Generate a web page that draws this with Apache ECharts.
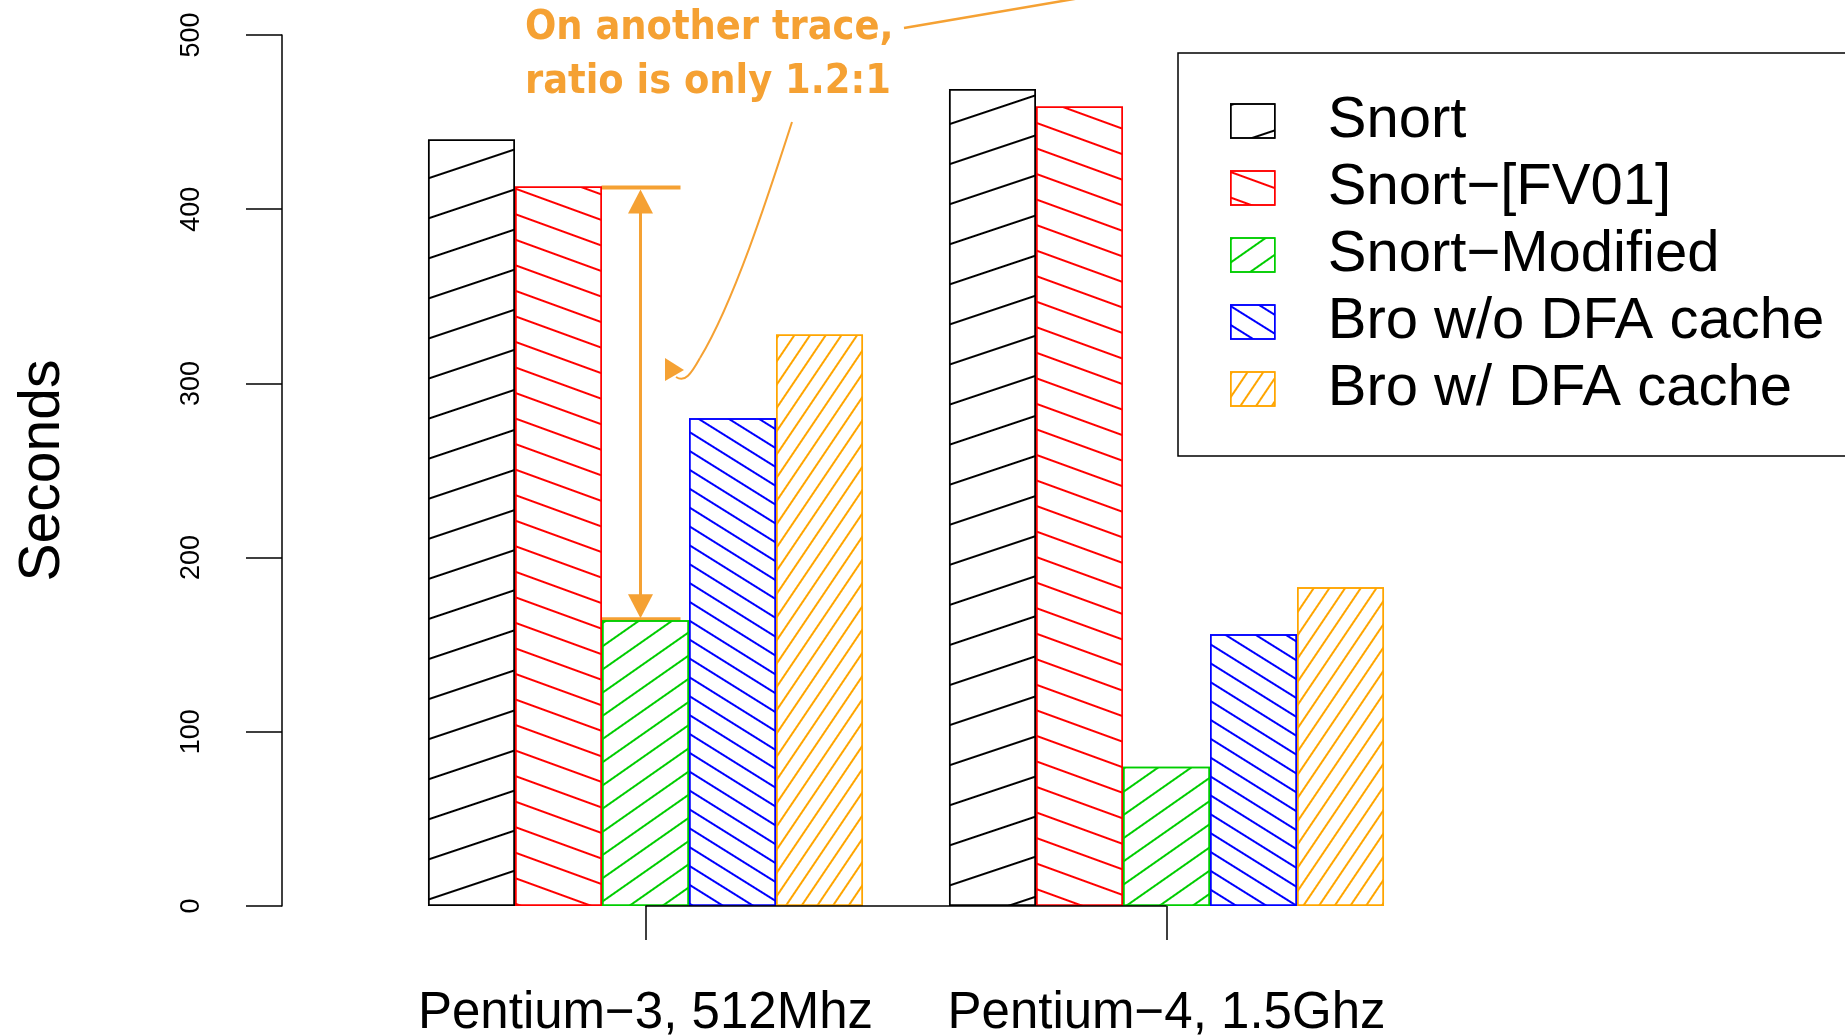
<!DOCTYPE html>
<html><head><meta charset="utf-8">
<script src="https://cdn.jsdelivr.net/npm/echarts@6/dist/echarts.min.js"></script>
<style>html,body{margin:0;padding:0;background:#fff}#c{width:1845px;height:1036px}</style>
</head><body><div id="c"></div>
<script>
// ---- data ----
const categories = ['Pentium\u22123, 512Mhz', 'Pentium\u22124, 1.5Ghz'];
const seriesNames = ['Snort', 'Snort\u2212[FV01]', 'Snort\u2212Modified', 'Bro w/o DFA cache', 'Bro w/ DFA cache'];
const snort = [440, 469];
const snortFV01 = [413, 459];
const snortModified = [164, 80];
const broNoCache = [280, 156];
const broCache = [328, 183];
const yTicks = [0, 100, 200, 300, 400, 500];
const annotationLines = ['On another trace,', 'ratio is only 1.2:1'];

// ---- styles ----
const seriesData = [snort, snortFV01, snortModified, broNoCache, broCache];
const colors = ['#000000', '#FF0000', '#00CD00', '#0000FF', '#FFA500'];
// hatch: angle in degrees (positive = lines rising to the right), perpendicular period
const hatchSpec = [[18.5, 37.3], [-20, 23.2], [35, 18.2], [-32, 15.1], [56, 12.3]];
const ORANGE = '#F5A133';
const FONT = '"Liberation Sans", Arial, Helvetica, sans-serif';
const AFONT = 'bold 41px "DejaVu Sans Condensed", "DejaVu Sans", sans-serif';

function hatch(color, angleDeg, period) {
  return {
    symbol: 'rect', symbolSize: 1, symbolKeepAspect: false,
    color: color, backgroundColor: 'rgba(0,0,0,0)',
    dashArrayX: [8, 0], dashArrayY: [1.7, period - 1.7],
    rotation: -angleDeg * Math.PI / 180
  };
}

const chart = echarts.init(document.getElementById('c'), null, {renderer: 'canvas'});

const series = seriesNames.map((name, i) => ({
  name: name, type: 'bar', data: seriesData[i],
  barGap: '0%', barCategoryGap: '16.5%', silent: true,
  emphasis: {disabled: true},
  itemStyle: {color: '#ffffff', borderColor: colors[i], borderWidth: 1.5,
    decal: hatch(colors[i], hatchSpec[i][0], hatchSpec[i][1])}
}));
// x-axis line between the group centres (R style); middle series => no bar offset
series[2].markLine = {
  silent: true, symbol: ['none', 'none'], label: {show: false},
  lineStyle: {color: '#000', width: 1.5, type: 'solid'},
  emphasis: {disabled: true},
  data: [[{coord: [categories[0], 0]}, {coord: [categories[1], 0]}]]
};

chart.setOption({
  animation: false,
  backgroundColor: '#ffffff',
  grid: {left: 385, right: 418, top: 35, bottom: 130, containLabel: false, outerBoundsMode: 'none'},
  legend: {
    orient: 'vertical', left: 1178, top: 53, padding: [39, 90, 38, 52],
    itemWidth: 44, itemHeight: 34, itemGap: 9, icon: 'rect',
    borderColor: '#000', borderWidth: 1.5, selectedMode: false,
    itemStyle: {borderWidth: 1.5},
    textStyle: {fontSize: 58, fontFamily: FONT, color: '#000', padding: [0, 0, 0, 48]},
    data: seriesNames
  },
  xAxis: {
    type: 'category', data: categories,
    axisLine: {show: false},
    axisTick: {show: true, alignWithLabel: true, length: 34, lineStyle: {color: '#000', width: 1.5}},
    axisLabel: {interval: 0, fontSize: 51, color: '#000', fontFamily: FONT, margin: 82},
    splitLine: {show: false}
  },
  yAxis: {
    type: 'value', min: yTicks[0], max: yTicks[yTicks.length - 1], interval: yTicks[1] - yTicks[0],
    offset: 103,
    name: 'Seconds', nameLocation: 'middle', nameRotate: 90, nameGap: 210,
    nameTextStyle: {fontSize: 57, color: '#000', fontFamily: FONT},
    axisLine: {show: true, lineStyle: {color: '#000', width: 1.5}},
    axisTick: {show: true, length: 36, lineStyle: {color: '#000', width: 1.5}},
    axisLabel: {rotate: 90, fontSize: 27, color: '#000', margin: 77, fontFamily: FONT},
    splitLine: {show: false}
  },
  series: series
});

// ---- annotation (dimension arrow tied to data values) ----
const cx = chart.convertToPixel({xAxisIndex: 0}, categories[0]) - 5;
const yTop = chart.convertToPixel({yAxisIndex: 0}, snortFV01[0]);
const yBot = chart.convertToPixel({yAxisIndex: 0}, snortModified[0]);
chart.setOption({
  graphic: [
    {type: 'line', silent: true, shape: {x1: cx - 39, y1: yTop + 1, x2: cx + 40, y2: yTop + 1}, style: {stroke: ORANGE, lineWidth: 4}},
    {type: 'line', silent: true, shape: {x1: cx - 39, y1: yBot - 1, x2: cx + 40, y2: yBot - 1}, style: {stroke: ORANGE, lineWidth: 4}},
    {type: 'line', silent: true, shape: {x1: cx, y1: yTop + 20, x2: cx, y2: yBot - 20}, style: {stroke: ORANGE, lineWidth: 3}},
    {type: 'polygon', silent: true, shape: {points: [[cx, yTop + 3], [cx - 12.5, yTop + 27], [cx + 12.5, yTop + 27]]}, style: {fill: ORANGE}},
    {type: 'polygon', silent: true, shape: {points: [[cx, yBot - 2], [cx - 12.5, yBot - 26], [cx + 12.5, yBot - 26]]}, style: {fill: ORANGE}},
    {type: 'text', silent: true, x: 525, y: 28, style: {text: annotationLines[0], font: AFONT, fill: ORANGE, verticalAlign: 'middle', align: 'left'}},
    {type: 'text', silent: true, x: 525, y: 82, style: {text: annotationLines[1], font: AFONT, fill: ORANGE, verticalAlign: 'middle', align: 'left'}},
    {type: 'line', silent: true, shape: {x1: 904, y1: 28, x2: 1080, y2: -2}, style: {stroke: ORANGE, lineWidth: 2.5}},
    {type: 'bezierCurve', silent: true, shape: {x1: 792, y1: 122, cpx1: 770, cpy1: 190, cpx2: 735, cpy2: 300, x2: 700, y2: 358}, style: {stroke: ORANGE, fill: null, lineWidth: 2}},
    {type: 'bezierCurve', silent: true, shape: {x1: 700, y1: 358, cpx1: 691, cpy1: 374, cpx2: 685, cpy2: 383, x2: 676, y2: 377}, style: {stroke: ORANGE, fill: null, lineWidth: 2}},
    {type: 'polygon', silent: true, shape: {points: [[665, 358], [665, 381], [684, 370]]}, style: {fill: ORANGE}}
  ]
});
</script>
</body></html>
